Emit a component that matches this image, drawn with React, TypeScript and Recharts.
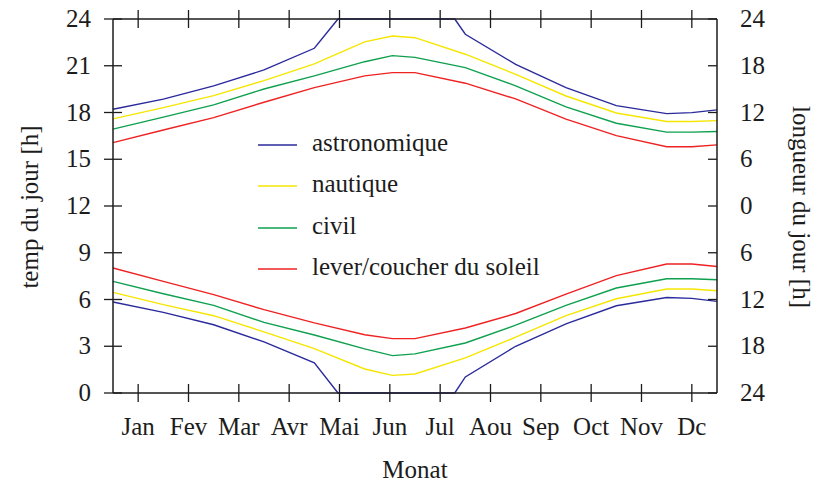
import { LineChart, Line, XAxis, YAxis } from 'recharts';

// positions in months since 1 January (month starts, plus the solstice points)
const monthPos = [0, 1, 2, 3, 4, 4.47, 5, 5.55, 6, 6.79, 7, 8, 9, 10, 11, 11.5, 12];

const monthLabels = ['Jan', 'Fev', 'Mar', 'Avr', 'Mai', 'Jun', 'Jul', 'Aou', 'Sep', 'Oct', 'Nov', 'Dc'];
const monthTicks = [0.5, 1.5, 2.5, 3.5, 4.5, 5.5, 6.5, 7.5, 8.5, 9.5, 10.5, 11.5];
const hourTicks = [0, 3, 6, 9, 12, 15, 18, 21, 24];

// evening (upper) curves, hours
const astroEve = [18.21, 18.86, 19.71, 20.73, 22.12, 24, 24, 24, 24, 24, 23.02, 21.09, 19.6, 18.44, 17.93, 17.99, 18.17];
const nautEve = [17.59, 18.31, 19.08, 20.05, 21.12, null, 22.53, 22.91, 22.8, null, 21.74, 20.45, 19.06, 17.97, 17.42, 17.42, 17.48];
const civilEve = [16.93, 17.7, 18.49, 19.51, 20.35, null, 21.26, 21.65, 21.54, null, 20.88, 19.71, 18.36, 17.31, 16.74, 16.74, 16.78];
const sunEve = [16.07, 16.88, 17.67, 18.66, 19.6, null, 20.35, 20.56, 20.56, null, 19.88, 18.87, 17.57, 16.52, 15.8, 15.8, 15.92];

// morning (lower) curves, hours
const astroMorn = [5.84, 5.17, 4.38, 3.28, 1.93, 0, 0, 0, 0, 0, 1.03, 3.0, 4.43, 5.6, 6.13, 6.07, 5.88];
const nautMorn = [6.46, 5.67, 4.96, 3.92, 2.85, null, 1.54, 1.13, 1.22, null, 2.25, 3.58, 4.96, 6.05, 6.67, 6.67, 6.56];
const civilMorn = [7.16, 6.37, 5.62, 4.53, 3.72, null, 2.83, 2.4, 2.51, null, 3.21, 4.35, 5.62, 6.74, 7.33, 7.33, 7.27];
const sunMorn = [8.02, 7.16, 6.31, 5.35, 4.5, null, 3.74, 3.49, 3.49, null, 4.17, 5.1, 6.35, 7.53, 8.28, 8.28, 8.12];

const twilightNames = ['astronomique', 'nautique', 'civil', 'lever/coucher du soleil'];
const twilightColors = ['#2a2a9c', '#f5e600', '#0ea04e', '#ee2222'];

const data = monthPos.map((m, i) => ({
  m,
  astroEve: astroEve[i],
  nautEve: nautEve[i],
  civilEve: civilEve[i],
  sunEve: sunEve[i],
  astroMorn: astroMorn[i],
  nautMorn: nautMorn[i],
  civilMorn: civilMorn[i],
  sunMorn: sunMorn[i],
}));

const eveKeys = ['astroEve', 'nautEve', 'civilEve', 'sunEve'];
const mornKeys = ['astroMorn', 'nautMorn', 'civilMorn', 'sunMorn'];

const INK = '#1c1c1c';
const FONT = '"Liberation Serif", "Times New Roman", serif';

function BottomTick({ x, y, payload }: any) {
  const idx = monthTicks.indexOf(payload.value);
  return (
    <g>
      <line x1={x} x2={x} y1={y - 9} y2={y + 9} stroke={INK} strokeWidth={1.3} />
      <text x={x} y={y + 42} textAnchor="middle" fontSize={25} fill={INK} fontFamily={FONT}>
        {monthLabels[idx]}
      </text>
    </g>
  );
}

function TopTick({ x, y }: any) {
  return <line x1={x} x2={x} y1={y - 9} y2={y + 9} stroke={INK} strokeWidth={1.3} />;
}

function LeftTick({ x, y, payload }: any) {
  return (
    <g>
      <line x1={x - 9} x2={x + 9} y1={y} y2={y} stroke={INK} strokeWidth={1.3} />
      <text x={x - 22} y={y + 8} textAnchor="end" fontSize={25} fill={INK} fontFamily={FONT}>
        {payload.value}
      </text>
    </g>
  );
}

// right axis shows day length: 24 - 2*|t - 12|... mirrored around noon
function RightTick({ x, y, payload }: any) {
  return (
    <g>
      <line x1={x - 9} x2={x} y1={y} y2={y} stroke={INK} strokeWidth={1.3} />
      <text x={x + 23} y={y + 8} textAnchor="start" fontSize={25} fill={INK} fontFamily={FONT}>
        {Math.abs(2 * payload.value - 24)}
      </text>
    </g>
  );
}

export default function App() {
  return (
    <div style={{ position: 'absolute', left: 0, top: 0, width: 819, height: 484, background: '#fff', fontFamily: FONT, color: INK }}>
      <LineChart width={819} height={484} data={data} margin={{ top: 9, right: 42, bottom: 51, left: 53 }}>
        <XAxis
          dataKey="m"
          type="number"
          domain={[0, 12]}
          ticks={monthTicks}
          height={40}
          tickSize={0}
          tickMargin={0}
          tickLine={false}
          axisLine={{ stroke: INK, strokeWidth: 1.5 }}
          tick={(p: any) => <BottomTick {...p} />}
          interval={0}
        />
        <XAxis
          xAxisId="top"
          orientation="top"
          dataKey="m"
          type="number"
          domain={[0, 12]}
          ticks={monthTicks}
          height={10}
          tickSize={0}
          tickMargin={0}
          tickLine={false}
          axisLine={{ stroke: INK, strokeWidth: 1.5 }}
          tick={(p: any) => <TopTick {...p} />}
          interval={0}
        />
        <YAxis
          type="number"
          domain={[0, 24]}
          ticks={hourTicks}
          width={60}
          tickSize={0}
          tickMargin={0}
          tickLine={false}
          axisLine={{ stroke: INK, strokeWidth: 1.5 }}
          tick={(p: any) => <LeftTick {...p} />}
          interval={0}
        />
        <YAxis
          yAxisId="right"
          orientation="right"
          type="number"
          domain={[0, 24]}
          ticks={hourTicks}
          width={60}
          tickSize={0}
          tickMargin={0}
          tickLine={false}
          axisLine={{ stroke: INK, strokeWidth: 1.5 }}
          tick={(p: any) => <RightTick {...p} />}
          interval={0}
        />
        {eveKeys.map((k, i) => (
          <Line
            key={k}
            type="linear"
            dataKey={k}
            stroke={twilightColors[i]}
            strokeWidth={1.4}
            dot={false}
            activeDot={false}
            connectNulls
            isAnimationActive={false}
          />
        ))}
        {mornKeys.map((k, i) => (
          <Line
            key={k}
            yAxisId="right"
            type="linear"
            dataKey={k}
            stroke={twilightColors[i]}
            strokeWidth={1.4}
            dot={false}
            activeDot={false}
            connectNulls
            isAnimationActive={false}
          />
        ))}
      </LineChart>

      <div style={{ position: 'absolute', left: 258, top: 122, fontSize: 25 }}>
        {twilightNames.map((name, i) => (
          <div key={name} style={{ display: 'flex', alignItems: 'center', height: 41.5 }}>
            <svg width={39} height={20} style={{ marginRight: 15 }}>
              <line x1={0} x2={39} y1={12} y2={12} stroke={twilightColors[i]} strokeWidth={1.4} />
            </svg>
            <span style={{ whiteSpace: 'nowrap' }}>{name}</span>
          </div>
        ))}
      </div>

      <div
        style={{
          position: 'absolute',
          left: 30,
          top: 207,
          fontSize: 25,
          whiteSpace: 'nowrap',
          transform: 'translate(-50%, -50%) rotate(-90deg)',
        }}
      >
        temp du jour [h]
      </div>
      <div
        style={{
          position: 'absolute',
          left: 801,
          top: 207,
          fontSize: 25,
          whiteSpace: 'nowrap',
          transform: 'translate(-50%, -50%) rotate(90deg)',
        }}
      >
        longueur du jour [h]
      </div>
      <div
        style={{
          position: 'absolute',
          left: 415,
          top: 470,
          fontSize: 25,
          whiteSpace: 'nowrap',
          transform: 'translate(-50%, -50%)',
        }}
      >
        Monat
      </div>
    </div>
  );
}
